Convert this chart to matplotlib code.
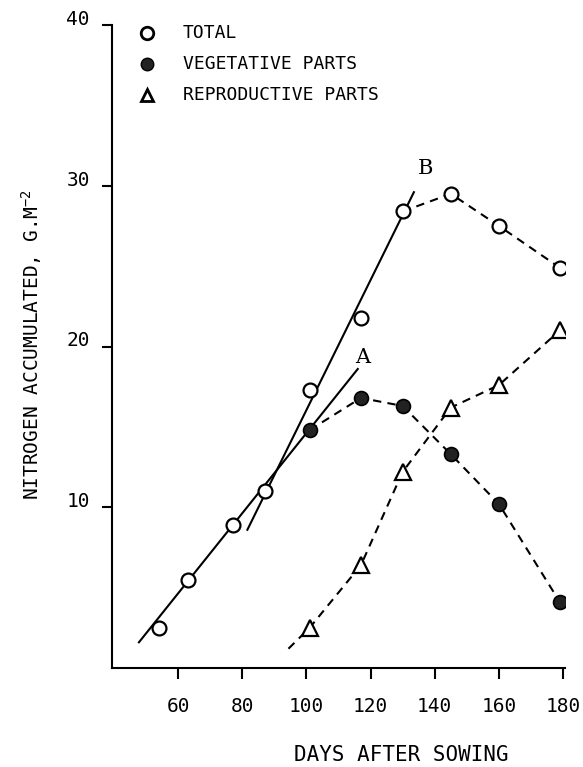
import matplotlib.pyplot as plt
from matplotlib.lines import Line2D

# sampling dates (days after sowing) and nitrogen in g m-2
days = [54, 63, 77, 87, 101, 117, 130, 145, 160, 179]
total = [2.5, 5.5, 8.9, 11.0, 17.3, 21.8, 28.4, 29.5, 27.5, 24.9]

late_days = [101, 117, 130, 145, 160, 179]
vegetative = [14.8, 16.8, 16.3, 13.3, 10.2, 4.1]
reproductive = [2.5, 6.4, 12.2, 16.2, 17.6, 21.0]

# hand-fitted growth lines A and B, and the start of the reproductive curve
line_a_days = [47.8, 116.0]
line_a_vals = [1.6, 18.6]
line_b_days = [81.6, 133.5]
line_b_vals = [8.6, 29.6]
repro_start_day = 94.4
repro_start_val = 1.2

xticks = [60, 80, 100, 120, 140, 160, 180]
yticks = [10, 20, 30, 40]

plt.rc('font', family='DejaVu Sans Mono', size=13)

W, H = 583, 767
fig = plt.figure(figsize=(W / 100, H / 100), dpi=100)
ax = fig.add_axes([112 / W, 1 - 668 / H, (565 - 112) / W, (668 - 25) / H])

dash = (0, (4, 3))
lw = 1.5

# fitted lines
ax.plot(line_a_days, line_a_vals, color='k', lw=lw, zorder=2)
ax.plot(line_b_days, line_b_vals, color='k', lw=lw, zorder=2)

# dashed curves
ax.plot(days[6:], total[6:], color='k', lw=lw, ls=dash, zorder=2)
ax.plot(late_days, vegetative, color='k', lw=lw, ls=dash, zorder=2)
ax.plot([repro_start_day] + late_days, [repro_start_val] + reproductive,
        color='k', lw=lw, ls=dash, zorder=2)

# markers
ax.plot(days, total, 'o', ms=10, mfc='white', mec='k', mew=1.6, ls='none', zorder=4)
ax.plot(late_days, vegetative, 'o', ms=10, mfc='#222222', mec='k', mew=1.2,
        ls='none', zorder=4)
ax.plot(late_days, reproductive, '^', ms=11, mfc='white', mec='k', mew=1.6,
        ls='none', zorder=4)

ax.text(117.5, 19.3, 'A', family='DejaVu Serif', fontsize=15, ha='center',
        va='center')
ax.text(137.2, 31.1, 'B', family='DejaVu Serif', fontsize=15, ha='center',
        va='center')

ax.set_xlim(39.4, 180.6)
ax.set_ylim(0, 40)
ax.set_xticks(xticks)
ax.set_yticks(yticks)
ax.spines['top'].set_visible(False)
ax.spines['right'].set_visible(False)
ax.spines['left'].set_linewidth(1.5)
ax.spines['bottom'].set_linewidth(1.5)
ax.tick_params(axis='x', direction='out', length=8, width=1.5, labelsize=14, pad=13)
ax.tick_params(axis='y', direction='out', length=7, width=1.5, labelsize=14, pad=9)
for t in ax.get_yticklabels():
    t.set_verticalalignment('baseline')

fig.text(32 / W, 1 - 345 / H, 'NITROGEN ACCUMULATED, G.M$\\mathregular{^{-2}}$',
         rotation=90, ha='center', va='center', fontsize=14)
fig.text(401 / W, 1 - 755 / H, 'DAYS AFTER SOWING', ha='center', va='center',
         fontsize=15)

# legend drawn by hand
legend_rows = [
    ('TOTAL', dict(marker='o', ms=9, mfc='white', mec='k', mew=2)),
    ('VEGETATIVE PARTS', dict(marker='o', ms=9, mfc='#222222', mec='k', mew=1)),
    ('REPRODUCTIVE PARTS', dict(marker='^', ms=9, mfc='white', mec='k', mew=2)),
]
for i, (label, style) in enumerate(legend_rows):
    y = 1 - (33 + 31 * i) / H
    fig.add_artist(Line2D([147 / W], [y], ls='none', transform=fig.transFigure, **style))
    fig.text(183 / W, y, label, ha='left', va='center', fontsize=13)

fig.savefig('out.png', dpi=100)
